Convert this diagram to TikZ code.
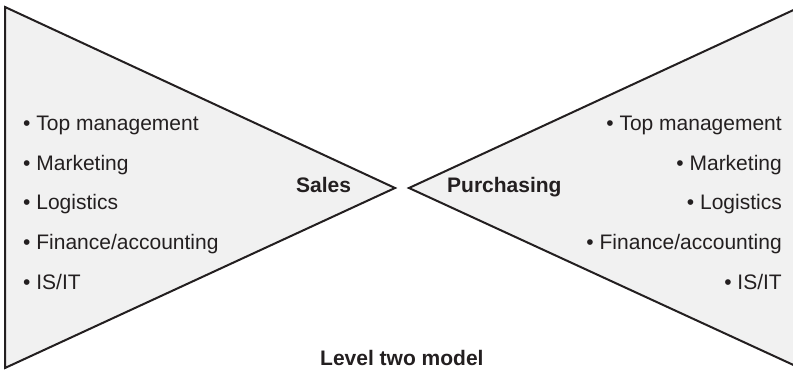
\documentclass[tikz,border=0pt]{standalone}
\usepackage{fontspec}
\setmainfont{Liberation Sans}
\definecolor{tri}{HTML}{F1F1F1}
\definecolor{ink}{HTML}{231F20}
\begin{document}
\begin{tikzpicture}[x=1pt,y=-1pt,
  tribox/.style={fill=tri,draw=ink,line width=2pt,line join=miter},
  item/.style={inner sep=0pt,text=ink,font=\fontsize{21}{25}\selectfont},
  head/.style={inner sep=0pt,text=ink,font=\fontsize{21}{25}\selectfont\bfseries}]
\useasboundingbox (0,0) rectangle (793,371);
\clip (0,0) rectangle (793,371);
\draw[tribox] (5,7) -- (395,188) -- (5,368) -- cycle;
\draw[tribox] (800,7) -- (409,188) -- (800,368) -- cycle;
\foreach \t/\y [count=\i] in {Top management/131, Marketing/170.5, Logistics/210, Finance\slash accounting/250, IS\slash IT/290}{
  \node[item,anchor=base west] (l\i) at (23,\y) {• \t};
  \node[item,anchor=base east] (r\i) at (782,\y) {• \t};
}
\node[head,anchor=base west] (sales) at (296,193) {Sales};
\node[head,anchor=base west] (purch) at (447,193) {Purchasing};
\node[head,anchor=base west] (level) at (320,366) {Level two model};
\end{tikzpicture}
\end{document}
